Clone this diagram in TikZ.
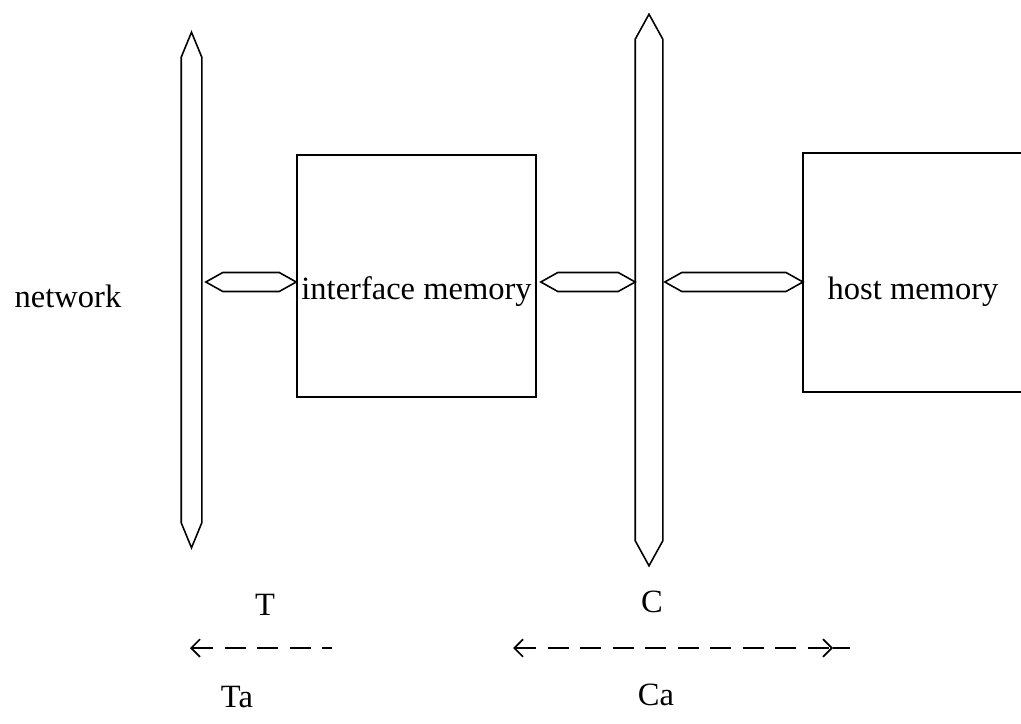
\documentclass[tikz,border=0pt]{standalone}
\usepackage{fontspec}
\setmainfont{Liberation Serif}
\usetikzlibrary{arrows.meta}

\newcommand{\busoutline}[2]{%
  \draw (#1.north west) -- ([yshift=#2]#1.north) -- (#1.north east)
    -- (#1.south east) -- ([yshift=-#2]#1.south) -- (#1.south west) -- cycle;}
\newcommand{\buslink}[2]{%
  \draw (#1) -- ([shift={(0.34,0.19)}]#1) -- ([shift={(-0.34,0.19)}]#2) -- (#2)
    -- ([shift={(-0.34,-0.19)}]#2) -- ([shift={(0.34,-0.19)}]#1) -- cycle;}
\tikzset{barb/.tip = {Straight Barb[length=5pt,width=10pt,line width=1pt]}}

\begin{document}
\begin{tikzpicture}[line width = 0.9pt,
		txt/.style = {font = \fontsize{18.5}{22}\selectfont, inner sep = 0pt},
		bus/.style = {inner sep = 0pt, minimum width = #1},
		mem/.style = {draw, inner sep = 0pt, minimum width = 4.78cm, minimum height = 4.84cm},
		flow/.style = {line width = 0.7pt, dash pattern = on 12pt off 6.5pt}]
			\useasboundingbox (0,0) rectangle (20.42,14.46);
			\node (netbus) at (3.83,8.66) [bus = 0.38cm, minimum height = 9.28cm] {};
			\node (sysbus) at (12.98,8.66) [bus = 0.52cm, minimum height = 10cm] {};
			\busoutline{netbus}{0.5cm}
			\busoutline{sysbus}{0.5cm}
			\node (imem) at (8.33,8.94) [mem] {};
			\coordinate (hmemnw) at (16.06,11.4);
			\coordinate (hmemsw) at (16.06,6.62);
			\draw (20.42,11.4) -- (hmemnw) -- (hmemsw) -- (20.42,6.62);
			\node (net) at (1.36,8.54) [txt] {network};
			\node (imemtxt) at (8.33,8.62) [txt] {interface memory};
			\node (hmemtxt) at (18.26,8.62) [txt] {host memory};
			\coordinate (row) at (0,8.82);
			\coordinate (l1a) at ([xshift=0.08cm]netbus.east |- row);
			\coordinate (l1b) at (imem.west |- row);
			\coordinate (l2a) at ([xshift=0.08cm]imem.east |- row);
			\coordinate (l2b) at (sysbus.west |- row);
			\coordinate (l3a) at ([xshift=0.04cm]sysbus.east |- row);
			\coordinate (l3b) at (hmemnw |- row);
			\buslink{l1a}{l1b}
			\buslink{l2a}{l2b}
			\buslink{l3a}{l3b}
			\node (t) at (5.3,2.36) [txt] {T};
			\node (c) at (13.04,2.42) [txt] {C};
			\node (ta) at (4.74,0.52) [txt] {Ta};
			\node (ca) at (13.12,0.56) [txt] {Ca};
			\coordinate (tl) at (3.8,1.5);
			\coordinate (tr) at (6.64,1.5);
			\coordinate (cl) at (10.26,1.5);
			\coordinate (cr) at (16.66,1.5);
			\coordinate (ce) at (17.0,1.5);
			\draw[flow, barb-] (tl) -- (tr);
			\draw[flow, barb-barb] (cl) -- (cr);
			\draw[flow] (cr) -- (ce);
			\end{tikzpicture}
\end{document}
